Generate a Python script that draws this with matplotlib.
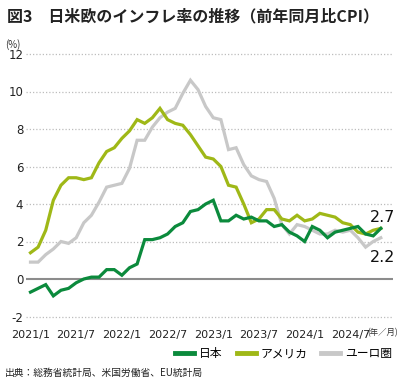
import matplotlib
matplotlib.use("Agg")
import matplotlib.pyplot as plt
from matplotlib.lines import Line2D

plt.rcParams['font.family'] = ['Noto Sans CJK JP', 'DejaVu Sans']

# ---- data: YoY CPI, 2021/1 .. 2024/11 ----
japan = [-0.7, -0.5, -0.3, -0.9, -0.6, -0.5, -0.2, 0.0, 0.1, 0.1, 0.5, 0.5,
         0.2, 0.6, 0.8, 2.1, 2.1, 2.2, 2.4, 2.8, 3.0, 3.6, 3.7, 4.0,
         4.2, 3.1, 3.1, 3.4, 3.2, 3.3, 3.1, 3.1, 2.8, 2.9, 2.5, 2.3,
         2.0, 2.8, 2.6, 2.2, 2.5, 2.6, 2.7, 2.8, 2.4, 2.3, 2.7]
usa = [1.4, 1.7, 2.6, 4.2, 5.0, 5.4, 5.4, 5.3, 5.4, 6.2, 6.8, 7.0,
       7.5, 7.9, 8.5, 8.3, 8.6, 9.1, 8.5, 8.3, 8.2, 7.7, 7.1, 6.5,
       6.4, 6.0, 5.0, 4.9, 4.0, 3.0, 3.2, 3.7, 3.7, 3.2, 3.1, 3.4,
       3.1, 3.2, 3.5, 3.4, 3.3, 3.0, 2.9, 2.5, 2.4, 2.6, 2.7]
euro = [0.9, 0.9, 1.3, 1.6, 2.0, 1.9, 2.2, 3.0, 3.4, 4.1, 4.9, 5.0,
        5.1, 5.9, 7.4, 7.4, 8.1, 8.6, 8.9, 9.1, 9.9, 10.6, 10.1, 9.2,
        8.6, 8.5, 6.9, 7.0, 6.1, 5.5, 5.3, 5.2, 4.3, 2.9, 2.4, 2.9,
        2.8, 2.6, 2.4, 2.4, 2.6, 2.5, 2.6, 2.2, 1.7, 2.0, 2.2]
months = list(range(len(japan)))

xtick_pos = [0, 6, 12, 18, 24, 30, 36, 42]
xtick_labels = ['2021/1', '2021/7', '2022/1', '2022/7',
                '2023/1', '2023/7', '2024/1', '2024/7']
yticks = [-2, 0, 2, 4, 6, 8, 10, 12]

c_jp = '#0b8a3c'
c_us = '#9fb817'
c_eu = '#c8c8c8'
num_font = ['Liberation Sans Narrow', 'DejaVu Sans']

fig = plt.figure(figsize=(4.0, 3.86), dpi=100)
ax = fig.add_axes([26/400, 1 - 324/386, (393-26)/400, (324-46.5)/386])

ax.plot(months, euro, color=c_eu, lw=2.3, zorder=3, solid_joinstyle='miter')
ax.plot(months, usa, color=c_us, lw=2.3, zorder=4, solid_joinstyle='miter')
ax.plot(months, japan, color=c_jp, lw=2.3, zorder=5, solid_joinstyle='miter')

# grid
for v in yticks:
    if v == 0:
        ax.axhline(v, color='#8c8c8c', lw=1.5, zorder=2)
    else:
        ax.axhline(v, color='#bdbdbd', lw=0.9, ls=(0, (1, 1.6)), zorder=1)

ax.set_xlim(-0.59, 47.6)
ax.set_ylim(-2.4, 12.4)
for s in ax.spines.values():
    s.set_visible(False)
ax.set_yticks(yticks)
ax.set_yticklabels([str(v) for v in yticks], fontsize=8.5, family=num_font, color='#222')
ax.set_xticks(xtick_pos)
ax.set_xticklabels(xtick_labels, fontsize=8, family=num_font, color='#222')
ax.tick_params(length=0, pad=2)
ax.tick_params(axis='x', pad=4)

# end labels
ax.annotate('2.7', xy=(months[-1], japan[-1]), xytext=(1, 7.5), textcoords='offset points',
            ha='center', va='center', fontsize=11.5, family=num_font, color='#111')
ax.annotate('2.2', xy=(months[-1], euro[-1]), xytext=(1, -14), textcoords='offset points',
            ha='center', va='center', fontsize=11.5, family=num_font, color='#111')

# texts around the chart
fig.text(7/400, 1 - 16/386, '図3　日米欧のインフレ率の推移（前年同月比CPI）',
         fontsize=11.5, fontweight='bold', color='#222', va='center', ha='left')
fig.text(5/400, 1 - 45/386, '(%)', fontsize=7, color='#333', va='center', ha='left')
fig.text(367/400, 1 - 333/386, '(年／月)', fontsize=6, color='#333', va='center', ha='left')
fig.text(5/400, 1 - 373/386, '出典：総務省統計局、米国労働省、EU統計局',
         fontsize=7, color='#222', va='center', ha='left')

handles = [Line2D([0], [0], color=c_jp, lw=3.5),
           Line2D([0], [0], color=c_us, lw=3.5),
           Line2D([0], [0], color=c_eu, lw=3.5)]
fig.legend(handles, ['日本', 'アメリカ', 'ユーロ圏'], loc='center right',
           bbox_to_anchor=(392/400, 1 - 354/386), ncol=3, frameon=False,
           fontsize=8.5, handlelength=1.6, handletextpad=0.4, columnspacing=1.2,
           borderaxespad=0, borderpad=0)

fig.savefig('out.png', dpi=100, facecolor='white')
